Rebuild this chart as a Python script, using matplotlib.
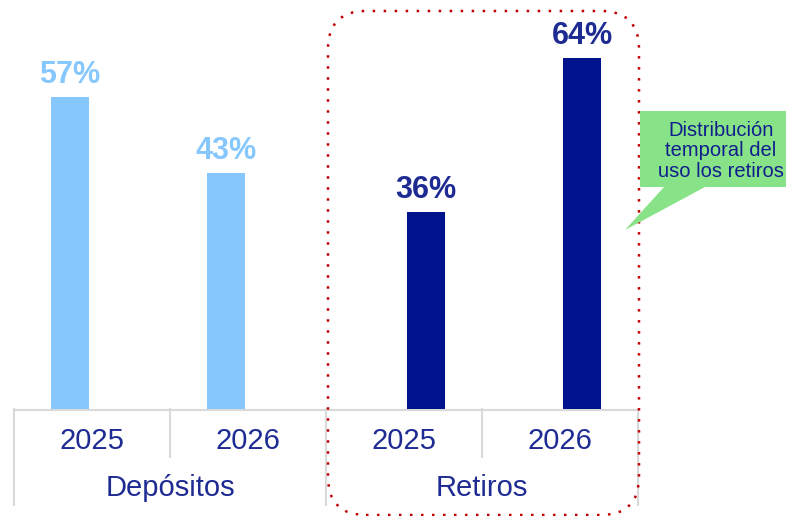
import matplotlib
matplotlib.use("Agg")
import matplotlib.pyplot as plt
from matplotlib.patches import FancyBboxPatch, Polygon
from matplotlib.lines import Line2D
from matplotlib.transforms import blended_transform_factory

plt.rcParams['font.family'] = ['Liberation Sans', 'DejaVu Sans']

# Data
groups = ["Depósitos", "Retiros"]
years = ["2025", "2026"]
depositos = [57, 43]
retiros = [36, 64]
labels_dep = ["57%", "43%"]
labels_ret = ["36%", "64%"]

LIGHT = "#86C8FE"
NAVY = "#00138C"
TEXT = "#1E2B93"
GRID = "#D9D9D9"

W, H, DPI = 788, 516, 100
fig = plt.figure(figsize=(W / DPI, H / DPI), dpi=DPI)

# axes spanning the plot area; x in category units (4 cells), y in percent
left_px, right_px, base_px = 14, 638, 409
px_per_pct = 5.48
ax = fig.add_axes([left_px / W, (H - base_px) / H, (right_px - left_px) / W, base_px / H])
ax.set_xlim(0, 4)
ax.set_ylim(0, base_px / px_per_pct)
ax.axis("off")

bar_w = 0.243
offset = 0.141
dep_x = [0.5 - offset, 1.5 - offset]
ret_x = [2.5 + offset, 3.5 + offset]

ax.bar(dep_x, depositos, width=bar_w, color=LIGHT, zorder=3)
ax.bar(ret_x, retiros, width=bar_w, color=NAVY, zorder=3)

for x, v, s in zip(dep_x, depositos, labels_dep):
    ax.annotate(s, (x, v), xytext=(0, 10), textcoords="offset points",
                ha="center", va="baseline", fontsize=22, fontweight="bold",
                color=LIGHT)
for x, v, s in zip(ret_x, retiros, labels_ret):
    ax.annotate(s, (x, v), xytext=(0, 10), textcoords="offset points",
                ha="center", va="baseline", fontsize=22, fontweight="bold",
                color=TEXT)

# category axis: baseline, separators and two-level labels
tr = blended_transform_factory(ax.transData, fig.transFigure)
def fy(py):
    return (H - py) / H

ax.add_line(Line2D([0, 4], [fy(base_px + 1)] * 2, transform=tr, color=GRID,
                   lw=1.5, clip_on=False, zorder=2))
for xb in [0, 2, 4]:
    ax.add_line(Line2D([xb, xb], [fy(base_px), fy(505)], transform=tr,
                       color=GRID, lw=1.5, clip_on=False))
for xb in [1, 3]:
    ax.add_line(Line2D([xb, xb], [fy(base_px), fy(457)], transform=tr,
                       color=GRID, lw=1.5, clip_on=False))

for i in range(4):
    ax.text(i + 0.5, fy(441), years[i % 2], transform=tr, ha="center",
            va="center", fontsize=21, color=TEXT)
for j, g in enumerate(groups):
    ax.text(2 * j + 1, fy(488), g, transform=tr, ha="center", va="center",
            fontsize=21, color=TEXT)

# dotted rounded frame around the Retiros group (inches)
def inch(px, py):
    return px / DPI, (H - py) / DPI

x0, y0 = inch(328, 515)
x1, y1 = inch(639, 11)
pad = 0.38
frame = FancyBboxPatch((x0 + pad, y0 + pad), (x1 - x0) - 2 * pad, (y1 - y0) - 2 * pad,
                       boxstyle=f"round,pad={pad}", transform=fig.dpi_scale_trans,
                       fill=False, edgecolor="#C00000", lw=1.8,
                       linestyle=(0, (1, 3.4)), zorder=5)
fig.add_artist(frame)

# callout
pts = [(640, 111), (786, 111), (786, 187), (705, 187), (625, 230),
       (664, 187), (640, 187)]
callout = Polygon([inch(*p) for p in pts], closed=True,
                  transform=fig.dpi_scale_trans, facecolor="#88E288",
                  edgecolor="none", zorder=6)
fig.add_artist(callout)
fig.text(721 / W, fy(151), "Distribución\ntemporal del\nuso los retiros",
         ha="center", va="center", fontsize=14.5, color="#101E8C",
         linespacing=1.1, zorder=7)

fig.savefig("out.png", dpi=DPI)
